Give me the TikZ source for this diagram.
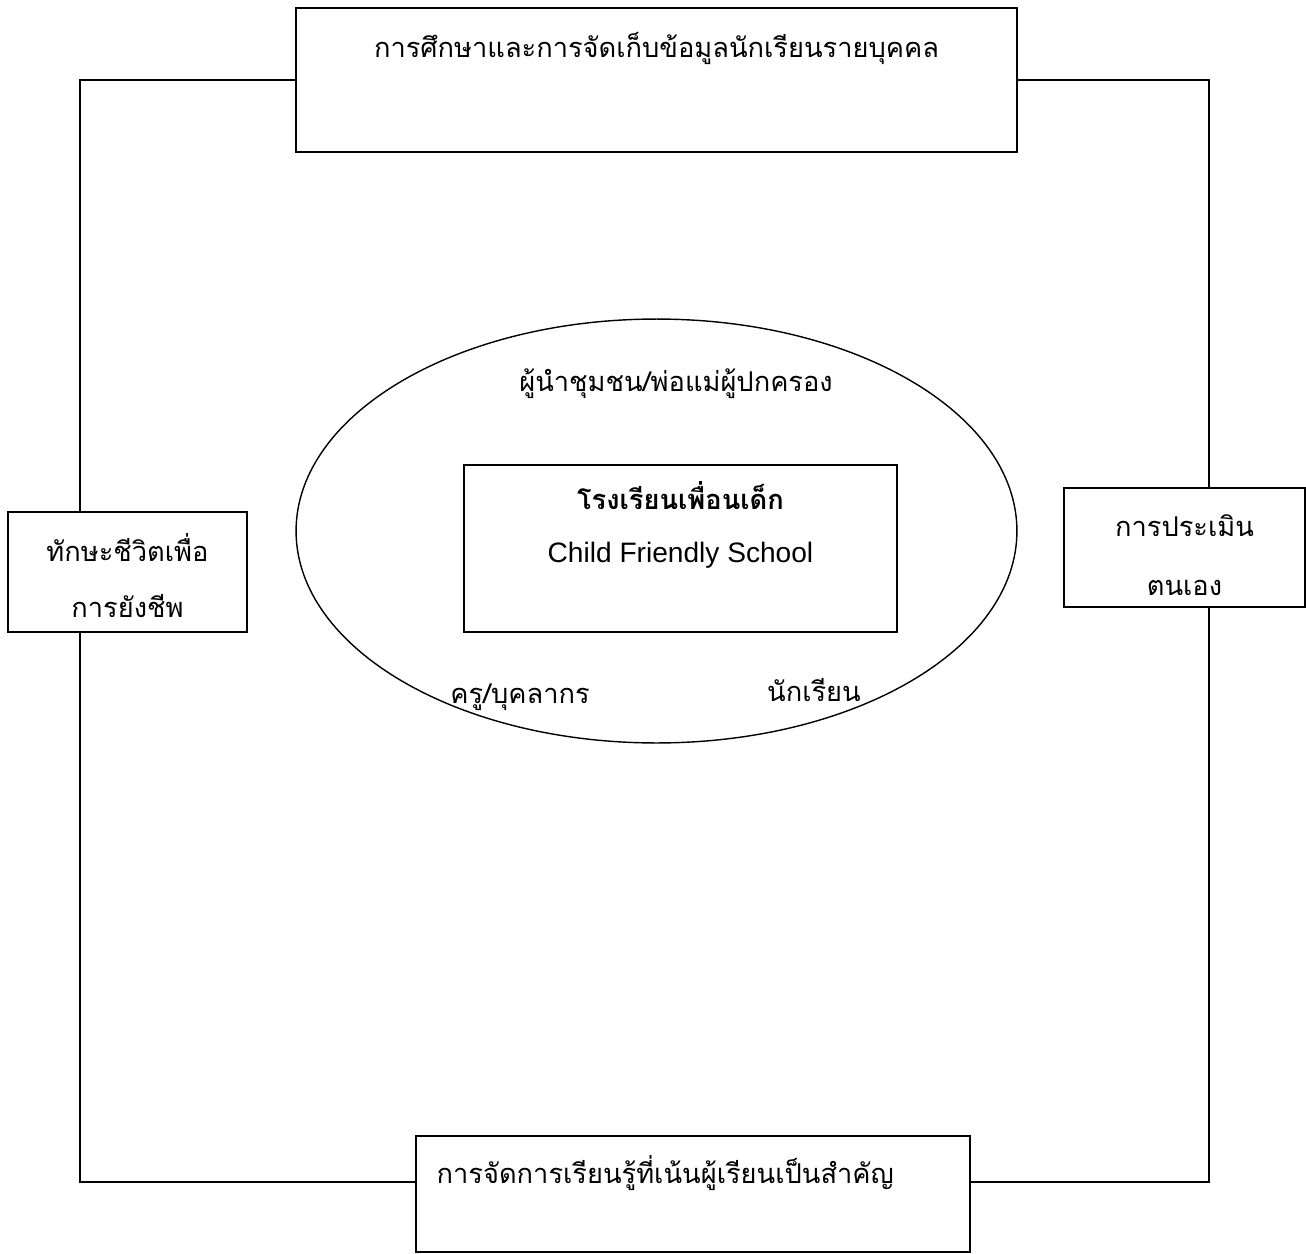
\documentclass[tikz,border=0pt]{standalone}
\usepackage{fontspec}
\setmainfont{Liberation Sans}
\newfontfamily\thaifont[Script=Thai]{Loma}
\usetikzlibrary{positioning,shapes.geometric}

\tikzset{
  box/.style={draw=black,rectangle,line width=0.8pt,inner sep=0pt},
  txt/.style={inner sep=0pt,text height=0.4cm,text depth=0.15cm,font=\thaifont\fontsize{15.5}{18}\selectfont},
  link/.style={line width=0.8pt}
}

\begin{document}
\begin{tikzpicture}[x=0.02cm,y=-0.02cm]
\useasboundingbox (0,0) rectangle (1306,1254);

% outer corners
\coordinate (tl) at (80,80);
\coordinate (tr) at (1209,80);
\coordinate (bl) at (80,1182);
\coordinate (br) at (1209,1182);

\node[box,minimum width=14.42cm,minimum height=2.88cm] (study) at (656.5,80) {};
\node[box,minimum width=4.78cm,minimum height=2.4cm,fill=white] (life) at (127.5,572) {};
\node[box,minimum width=4.82cm,minimum height=2.38cm,fill=white] (self) at (1184.5,547.5) {};
\node[box,minimum width=11.08cm,minimum height=2.32cm] (learn) at (693,1194) {};
\node[draw=black,ellipse,line width=0.8pt,minimum width=14.42cm,minimum height=8.48cm,inner sep=0pt] (ring) at (656.5,531) {};
\node[box,minimum width=8.66cm,minimum height=3.34cm] (cfs) at (680.5,548.5) {};

\node[txt] (studyt) [below=0.6cm of study.north] {การศึกษาและการจัดเก็บข้อมูลนักเรียนรายบุคคล};
\node[txt] (lifet1) [below=0.6cm of life.north] {ทักษะชีวิตเพื่อ};
\node[txt] (lifet2) [below=0.55cm of lifet1] {การยังชีพ};
\node[txt] (selft1) [below=0.58cm of self.north] {การประเมิน};
\node[txt] (selft2) [below=0.61cm of selft1] {ตนเอง};
\node[txt] (learnt) [below right=0.56cm and 0.42cm of learn.north west] {การจัดการเรียนรู้ที่เน้นผู้เรียนเป็นสำคัญ};
\node[txt,font=\thaifont\bfseries\fontsize{15.5}{18}\selectfont] (cfst1) [below=0.5cm of cfs.north] {โรงเรียนเพื่อนเด็ก};
\node[txt,font=\fontsize{16}{19}\selectfont] (cfst2) [below=0.49cm of cfst1] {Child Friendly School};
\node[txt] (leaders) at (676,385) {ผู้นำชุมชน/พ่อแม่ผู้ปกครอง};
\node[txt] (teachers) at (520,697) {ครู/บุคลากร};
\node[txt] (pupils) at (814,695) {นักเรียน};

\draw[link] (study.west) -- (tl) -- (life.north -| tl);
\draw[link] (life.south -| bl) -- (bl) -- (learn.west |- bl);
\draw[link] (learn.east |- br) -- (br) -- (self.south -| br);
\draw[link] (self.north -| tr) -- (tr) -- (study.east |- tr);

\end{tikzpicture}
\end{document}
